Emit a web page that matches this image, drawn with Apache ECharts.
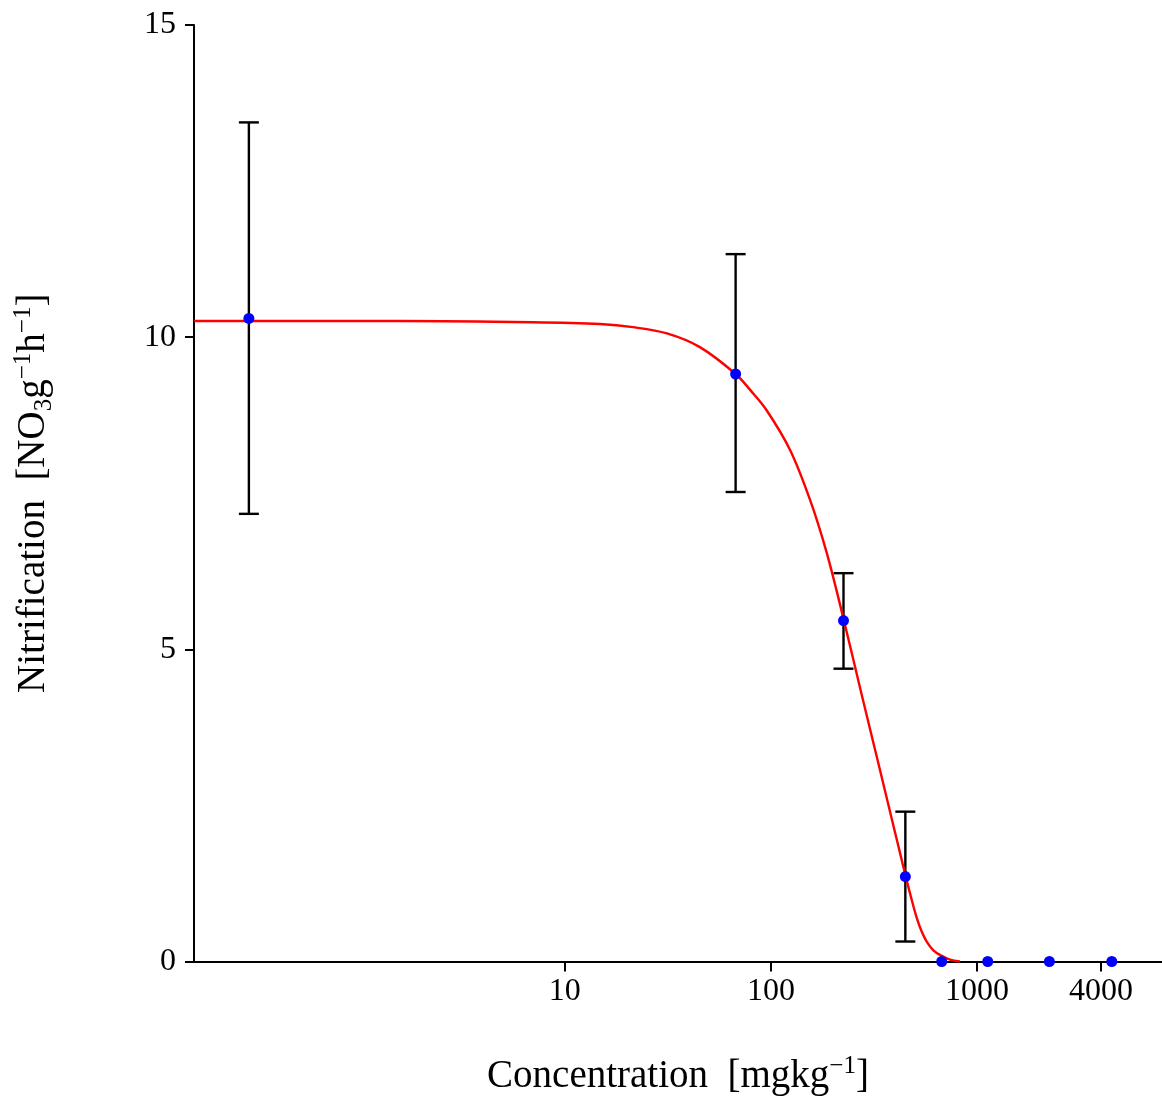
<!DOCTYPE html>
<html><head><meta charset="utf-8">
<script src="https://cdn.jsdelivr.net/npm/echarts@6/dist/echarts.min.js"></script>
<style>html,body{margin:0;padding:0;background:#fff}#c{width:1162px;height:1101px}</style>
</head><body><div id="c"></div>
<script>
// Observed data (concentration in mg/kg, nitrification rate)
const conc = [0.293, 67.4, 225, 449, 674, 1127, 2244, 4508];
const nitrif = [10.30, 9.41, 5.46, 1.36, 0, 0, 0, 0];
// Error bars for the first four points
const errLow = [7.17, 7.52, 4.69, 0.32];
const errHigh = [13.44, 11.33, 6.22, 2.40];
// Fitted dose-response curve
const fitX = [0.159, 1.58, 7.0, 14.8, 21.4, 31.3, 45.2, 67.4, 80, 95.3, 124, 155, 186, 225, 275, 338, 400, 423, 451, 482, 510, 539, 570, 614, 674, 740, 826];
const fitY = [10.26, 10.26, 10.24, 10.21, 10.16, 10.06, 9.84, 9.41, 9.14, 8.83, 8.19, 7.39, 6.56, 5.49, 4.29, 3.07, 2.07, 1.74, 1.36, 0.99, 0.70, 0.48, 0.32, 0.18, 0.09, 0.03, 0];
// Tick labels
const xTicks = [10, 100, 1000, 4000];
const yTicks = [0, 5, 10, 15];

const FONT = "'Liberation Serif', 'Times New Roman', serif";
const chart = echarts.init(document.getElementById('c'));
chart.setOption({
  animation: false,
  backgroundColor: '#fff',
  grid: { left: 194, right: 0, top: 25, bottom: 139 },
  xAxis: {
    type: 'log', logBase: 10, min: 0.1587, max: 7900,
    axisLine: { show: true, onZero: false, lineStyle: { color: '#000', width: 2 } },
    axisTick: { show: true, length: 10, lineStyle: { color: '#000', width: 2 }, customValues: xTicks },
    axisLabel: { customValues: xTicks, formatter: v => String(v), fontFamily: FONT, fontSize: 32, color: '#000', margin: 14 },
    splitLine: { show: false },
    name: '{n|Concentration  [mgkg}{s|−1}{n|]}',
    nameLocation: 'middle', nameGap: 92,
    nameTextStyle: {
      rich: {
        n: { fontFamily: FONT, fontSize: 39, color: '#000', lineHeight: 46 },
        s: { fontFamily: FONT, fontSize: 25, color: '#000', lineHeight: 25, verticalAlign: 'top' }
      }
    }
  },
  yAxis: {
    type: 'value', min: 0, max: 15, interval: 5,
    axisLine: { show: true, lineStyle: { color: '#000', width: 2 } },
    axisTick: { show: true, length: 9, lineStyle: { color: '#000', width: 2 }, customValues: yTicks },
    axisLabel: { customValues: yTicks, fontFamily: FONT, fontSize: 32, color: '#000', margin: 18, padding: [12, 0, 0, 0] },
    splitLine: { show: false },
    name: '{n|Nitrification  [NO}{b|3}{n|g}{s|−1}{n|h}{s|−1}{n|]}',
    nameLocation: 'middle', nameGap: 137, nameRotate: 90,
    nameTextStyle: {
      rich: {
        n: { fontFamily: FONT, fontSize: 39, color: '#000', lineHeight: 46 },
        s: { fontFamily: FONT, fontSize: 25, color: '#000', lineHeight: 25, verticalAlign: 'top' },
        b: { fontFamily: FONT, fontSize: 25, color: '#000', lineHeight: 25, verticalAlign: 'bottom' }
      }
    }
  },
  series: [
    {
      type: 'custom',
      z: 1,
      renderItem: function (params, api) {
        const x = api.value(0), lo = api.value(1), hi = api.value(2);
        const pLo = api.coord([x, lo]);
        const pHi = api.coord([x, hi]);
        const w = 10;
        const st = { stroke: '#000', lineWidth: 2.4 };
        return { type: 'group', children: [
          { type: 'line', shape: { x1: pLo[0], y1: pLo[1], x2: pHi[0], y2: pHi[1] }, style: st },
          { type: 'line', shape: { x1: pLo[0] - w, y1: pLo[1], x2: pLo[0] + w, y2: pLo[1] }, style: st },
          { type: 'line', shape: { x1: pHi[0] - w, y1: pHi[1], x2: pHi[0] + w, y2: pHi[1] }, style: st }
        ]};
      },
      encode: { x: 0, y: [1, 2] },
      data: errLow.map((lo, i) => [conc[i], lo, errHigh[i]])
    },
    {
      type: 'line', z: 2,
      data: fitX.map((x, i) => [x, fitY[i]]),
      showSymbol: false, symbol: 'none', smooth: 0.35,
      lineStyle: { color: '#ff0000', width: 2.4 },
      clip: false
    },
    {
      type: 'scatter', z: 3,
      data: conc.map((x, i) => [x, nitrif[i]]),
      symbol: 'circle', symbolSize: 11,
      itemStyle: { color: '#0000ff', opacity: 1 },
      clip: false
    }
  ]
});
</script>
</body></html>
